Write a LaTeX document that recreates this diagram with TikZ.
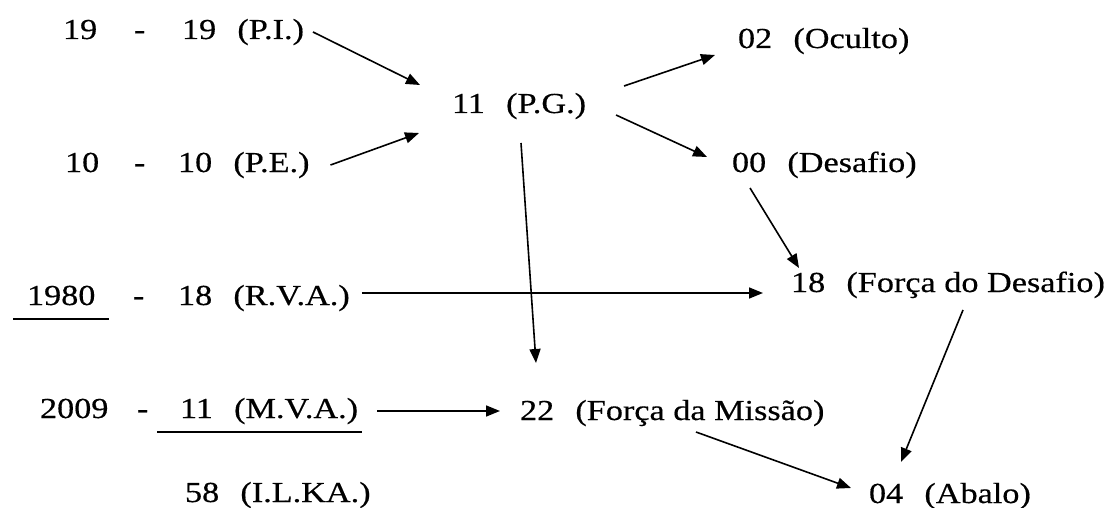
\documentclass[tikz,border=0pt]{standalone}
\usepackage{fontspec}
\setmainfont{Liberation Serif}[FakeBold=0.4]
\usetikzlibrary{arrows.meta,calc}
\newcommand{\wtext}[1]{\scalebox{1.18}[1]{#1}}
\newcommand{\gap}{\hspace{18pt}}
\tikzset{
  lbl/.style={anchor=base west, inner sep=0pt, outer sep=0pt, font=\fontsize{29}{32}\selectfont},
  arr/.style={-{Triangle[length=14pt,width=11pt]}, line width=1.6pt},
  uline/.style={line width=1.6pt}
}
\begin{document}
\begin{tikzpicture}[x=1pt,y=-1pt]
\useasboundingbox[fill=white] (0,0) rectangle (1106,508);
% left column
\node[lbl] (n19) at (63,39) {\wtext{19}};
\node[lbl] (d1) at (134,39) {\wtext{-}};
\node[lbl] (pi) at (182,39) {\wtext{19\gap(P.I.)}};
\node[lbl] (n10) at (65,172) {\wtext{10}};
\node[lbl] (d2) at (134,172) {\wtext{-}};
\node[lbl] (pe) at (178,172) {\wtext{10\gap(P.E.)}};
\node[lbl] (n1980) at (27,305) {\wtext{1980}};
\node[lbl] (d3) at (133,305) {\wtext{-}};
\node[lbl] (rva) at (178,305) {\wtext{18\gap(R.V.A.)}};
\node[lbl] (n2009) at (40,418) {\wtext{2009}};
\node[lbl] (d4) at (137,418) {\wtext{-}};
\node[lbl] (mva) at (180,418) {\wtext{11\gap(M.V.A.)}};
\node[lbl] (ilka) at (185,502) {\wtext{58\gap(I.L.KA.)}};
% right part
\node[lbl] (pg) at (452,113) {\wtext{11\gap(P.G.)}};
\node[lbl] (oc) at (738,48) {\wtext{02\gap(Oculto)}};
\node[lbl] (de) at (732,172) {\wtext{00\gap(Desafio)}};
\node[lbl] (fd) at (791,292) {\wtext{18\gap(Força do Desafio)}};
\node[lbl] (mi) at (520,420) {\wtext{22\gap(Força da Missão)}};
\node[lbl] (ab) at (869,503) {\wtext{04\gap(Abalo)}};
% underlines
\draw[uline] ($(n1980.base west)+(-14,14)$) -- ($(n1980.base east)+(14,14)$);
\draw[uline] ($(mva.base west)+(-23,14)$) -- ($(mva.base east)+(4,14)$);
% connectors
\draw[arr] ($(pi.base east)+(9,-7)$) -- ($(pg.base west)+(-32,-28)$);
\draw[arr] ($(pe.base east)+(21,-7)$) -- ($(pg.base west)+(-33,20)$);
\draw[arr] ($(pg.base east)+(38,-27)$) -- ($(oc.base west)+(-23,7)$);
\draw[arr] ($(pg.base east)+(30,2)$) -- ($(de.base west)+(-25,-15)$);
\draw[arr] ($(pg.base west)+(69,30)$) -- ($(mi.base west)+(16,-57)$);
\draw[arr] ($(de.base west)+(18,16)$) -- ($(fd.base west)+(8,-24)$);
\draw[arr] ($(rva.base east)+(12,-12)$) -- ($(fd.base west)+(-28,1)$);
\draw[arr] ($(mva.base east)+(19,-7)$) -- ($(mi.base west)+(-20,-9)$);
\draw[arr] ($(fd.base west)+(172,18)$) -- ($(ab.base west)+(32,-41)$);
\draw[arr] ($(mi.base west)+(176,12)$) -- ($(ab.base west)+(-18,-15)$);
\end{tikzpicture}
\end{document}
